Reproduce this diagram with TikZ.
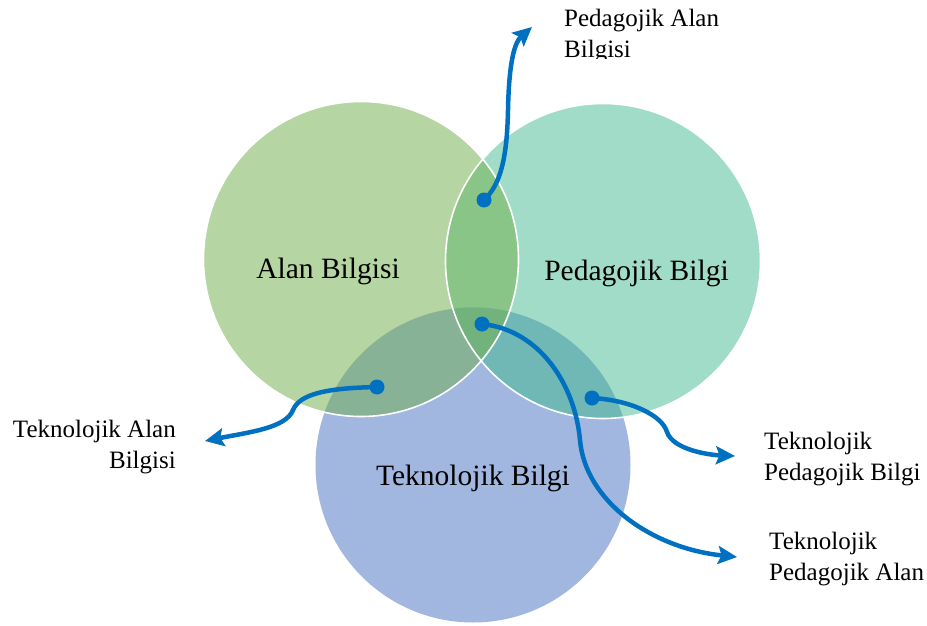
\documentclass[tikz,border=0pt]{standalone}
\usepackage{fontspec}
\setmainfont{Liberation Serif}
\usetikzlibrary{arrows.meta}

\definecolor{cG}{HTML}{B5D5A3}
\definecolor{cT}{HTML}{A0DCC8}
\definecolor{cB}{HTML}{A1B7E0}
\definecolor{cGT}{HTML}{8AC588}
\definecolor{cGB}{HTML}{88B295}
\definecolor{cTB}{HTML}{6FB8B6}
\definecolor{cGTB}{HTML}{72B37D}
\definecolor{arrowblue}{HTML}{0070C0}

\tikzset{
  biglabel/.style={font=\fontsize{29.5}{34}\selectfont, inner sep=0pt, anchor=base},
  smalllabel/.style={font=\fontsize{25}{31}\selectfont, inner sep=0pt},
  dot/.style={circle, fill=arrowblue, minimum size=15pt, inner sep=0pt},
  conn/.style={draw=arrowblue, line width=4.5pt,
    -{Stealth[length=19pt, width=18pt, inset=3.5pt]}},
  rim/.style={draw=white, line width=1.6pt}
}

\begin{document}
\begin{tikzpicture}[x=1pt, y=-1pt]
\useasboundingbox (0,0) rectangle (927,626);

% circle centres and radius
\coordinate (cg) at (361,259);
\coordinate (ct) at (603,261);
\coordinate (cb) at (473,465);
\def\rad{157.5}

% base discs
\fill[cB] (cb) circle (\rad);
\fill[cG] (cg) circle (\rad);
\fill[cT] (ct) circle (\rad);

% pairwise overlaps
\begin{scope}
  \clip (cg) circle (\rad);
  \fill[cGT] (ct) circle (\rad);
  \fill[cGB] (cb) circle (\rad);
\end{scope}
\begin{scope}
  \clip (ct) circle (\rad);
  \fill[cTB] (cb) circle (\rad);
\end{scope}
% triple overlap
\begin{scope}
  \clip (cg) circle (\rad);
  \clip (ct) circle (\rad);
  \fill[cGTB] (cb) circle (\rad);
\end{scope}

% white rims
\draw[rim] (cg) circle (\rad);
\draw[rim] (ct) circle (\rad);

% circle labels
\node[biglabel] (alan) at (328,278) {Alan Bilgisi};
\node[biglabel] (ped) at (636.5,280) {Pedagojik Bilgi};
\node[biglabel] (tek) at (473,485) {Teknolojik Bilgi};

% outer labels
\begin{scope}
  \clip (0,0) rectangle (927,59);
  \node[smalllabel, anchor=base west] (pab) at (564,27)
    {\begin{tabular}[t]{@{}l@{}}Pedagojik Alan\\Bilgisi\end{tabular}};
\end{scope}
\node[smalllabel, anchor=base east] (tab) at (176,437)
  {\begin{tabular}[t]{@{}r@{}}Teknolojik Alan\\Bilgisi\end{tabular}};
\node[smalllabel, anchor=base west] (tpb) at (764,449)
  {\begin{tabular}[t]{@{}l@{}}Teknolojik\\Pedagojik Bilgi\end{tabular}};
\node[smalllabel, anchor=base west] (tpa) at (769,549)
  {\begin{tabular}[t]{@{}l@{}}Teknolojik\\Pedagojik Alan\end{tabular}};

% pointers
\node[dot] (d1) at (484,200) {};
\node[dot] (d2) at (377,387) {};
\node[dot] (d3) at (592,398) {};
\node[dot] (d4) at (482,324) {};

\coordinate (e1) at (532,27);
\coordinate (e2) at (205,441);
\coordinate (e3) at (735,456);
\coordinate (e4) at (737,557);

\draw[conn] (d1.center) .. controls (500,185) and (507,160) .. (508,110)
  .. controls (509,60) and (515,42) .. (e1);
\draw[conn] (d2.center) .. controls (330,388) and (300,393) .. (293,410)
  .. controls (286,428) and (250,432) .. (e2);
\draw[conn] (d3.center) .. controls (630,400) and (662,415) .. (667,432)
  .. controls (673,450) and (710,455) .. (e3);
\draw[conn] (d4.center) .. controls (540,330) and (575,385) .. (580,440)
  .. controls (585,500) and (650,548) .. (e4);
\end{tikzpicture}
\end{document}
